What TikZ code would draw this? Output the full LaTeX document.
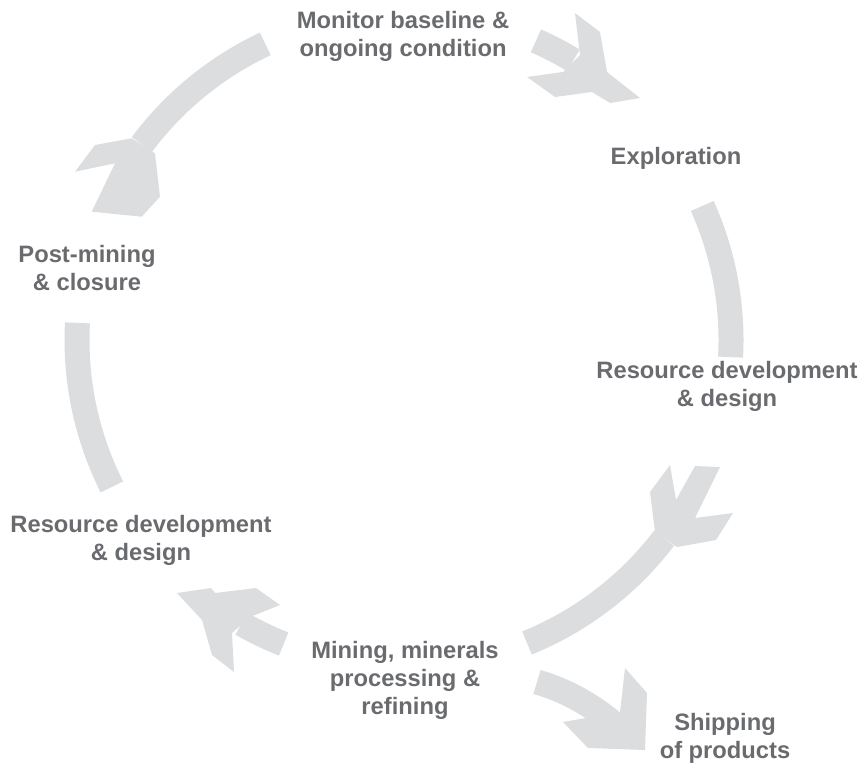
\documentclass[tikz,border=0pt]{standalone}
\usepackage{fontspec}
\setmainfont{Liberation Sans}
\definecolor{arrowgray}{HTML}{DCDDDE}
\definecolor{textgray}{HTML}{6A6B6E}
\begin{document}
\begin{tikzpicture}[x=0.75pt,y=-0.75pt,
  txt/.style={text=textgray, font=\fontsize{17.8}{21}\selectfont\bfseries, align=center, inner sep=0pt},
  band/.style={draw=arrowgray, line width=18.75pt},
  headshape/.style={fill=arrowgray, draw=none}]
\useasboundingbox (0,0) rectangle (862,764);
\coordinate (O) at (404,340);

% labels
\node[txt] (monitor) at (403,36) {Monitor baseline \&\\ongoing condition};
\node[txt] (explor) at (676,158) {Exploration};
\node[txt] (post) at (87,268) {Post-mining\\\& closure};
\node[txt] (resR) at (727,386) {Resource development\\\& design};
\node[txt] (resL) at (141,540) {Resource development\\\& design};
\node[txt] (mining) at (405,680) {Mining, minerals\\processing \&\\refining};
\node[txt] (ship) at (725,738) {Shipping\\of products};

% top-left arc: monitor -> post-mining
\draw[band] ([shift={(-115.1:327)}]O) arc[start angle=-115.1, end angle=-143.3, radius=327];
\fill[headshape] (131.7,138.3) -- (95,145) -- (75,171.7) -- (115,163.3) -- (91.7,211.7) -- (141.7,216.7) -- (160,196.7) -- (155,153.3) -- cycle;

% top-right: monitor -> exploration
\draw[band] ([shift={(-66.2:327)}]O) arc[start angle=-66.2, end angle=-58.8, radius=327];
\fill[headshape] (580,55) -- (575,13) -- (600,32) -- (607,72) -- (640,98) -- (610,103) -- (592,92) -- (555,97) -- (527,77) -- (563,72) -- cycle;

% right arc: exploration - resource development
\draw[band] ([shift={(-24.2:327)}]O) arc[start angle=-24.2, end angle=3.0, radius=327];

% left arc: resource development - post-mining
\draw[band] ([shift={(153.3:327)}]O) arc[start angle=153.3, end angle=183, radius=327];

% bottom-right arc: mining -> resource development (right)
\draw[band] ([shift={(67.9:327)}]O) arc[start angle=67.9, end angle=37.3, radius=327];
\fill[headshape] (655,532) -- (650,492) -- (670,465) -- (676,500) -- (695,466) -- (720,467) -- (695,518) -- (733,513) -- (716,540) -- (677,547) -- cycle;

% bottom-left: mining -> resource development (left)
\draw[band] ([shift={(111.6:327)}]O) arc[start angle=111.6, end angle=119.8, radius=327];
\fill[headshape] (177,593) -- (211,588) -- (215,593) -- (256,588) -- (280,605) -- (250,617) -- (232,633) -- (234,672) -- (212,655) -- (202,620) -- cycle;

% shipping
\coordinate (shipTail) at (537,682);
\coordinate (shipEnd) at (612,722);
\draw[band] (shipTail) .. controls (565,690) and (590,704) .. (shipEnd);
\fill[headshape] (625,668) -- (647,693) -- (645,750) -- (588,748) -- (563,722) -- (620,712) -- cycle;
\end{tikzpicture}
\end{document}
